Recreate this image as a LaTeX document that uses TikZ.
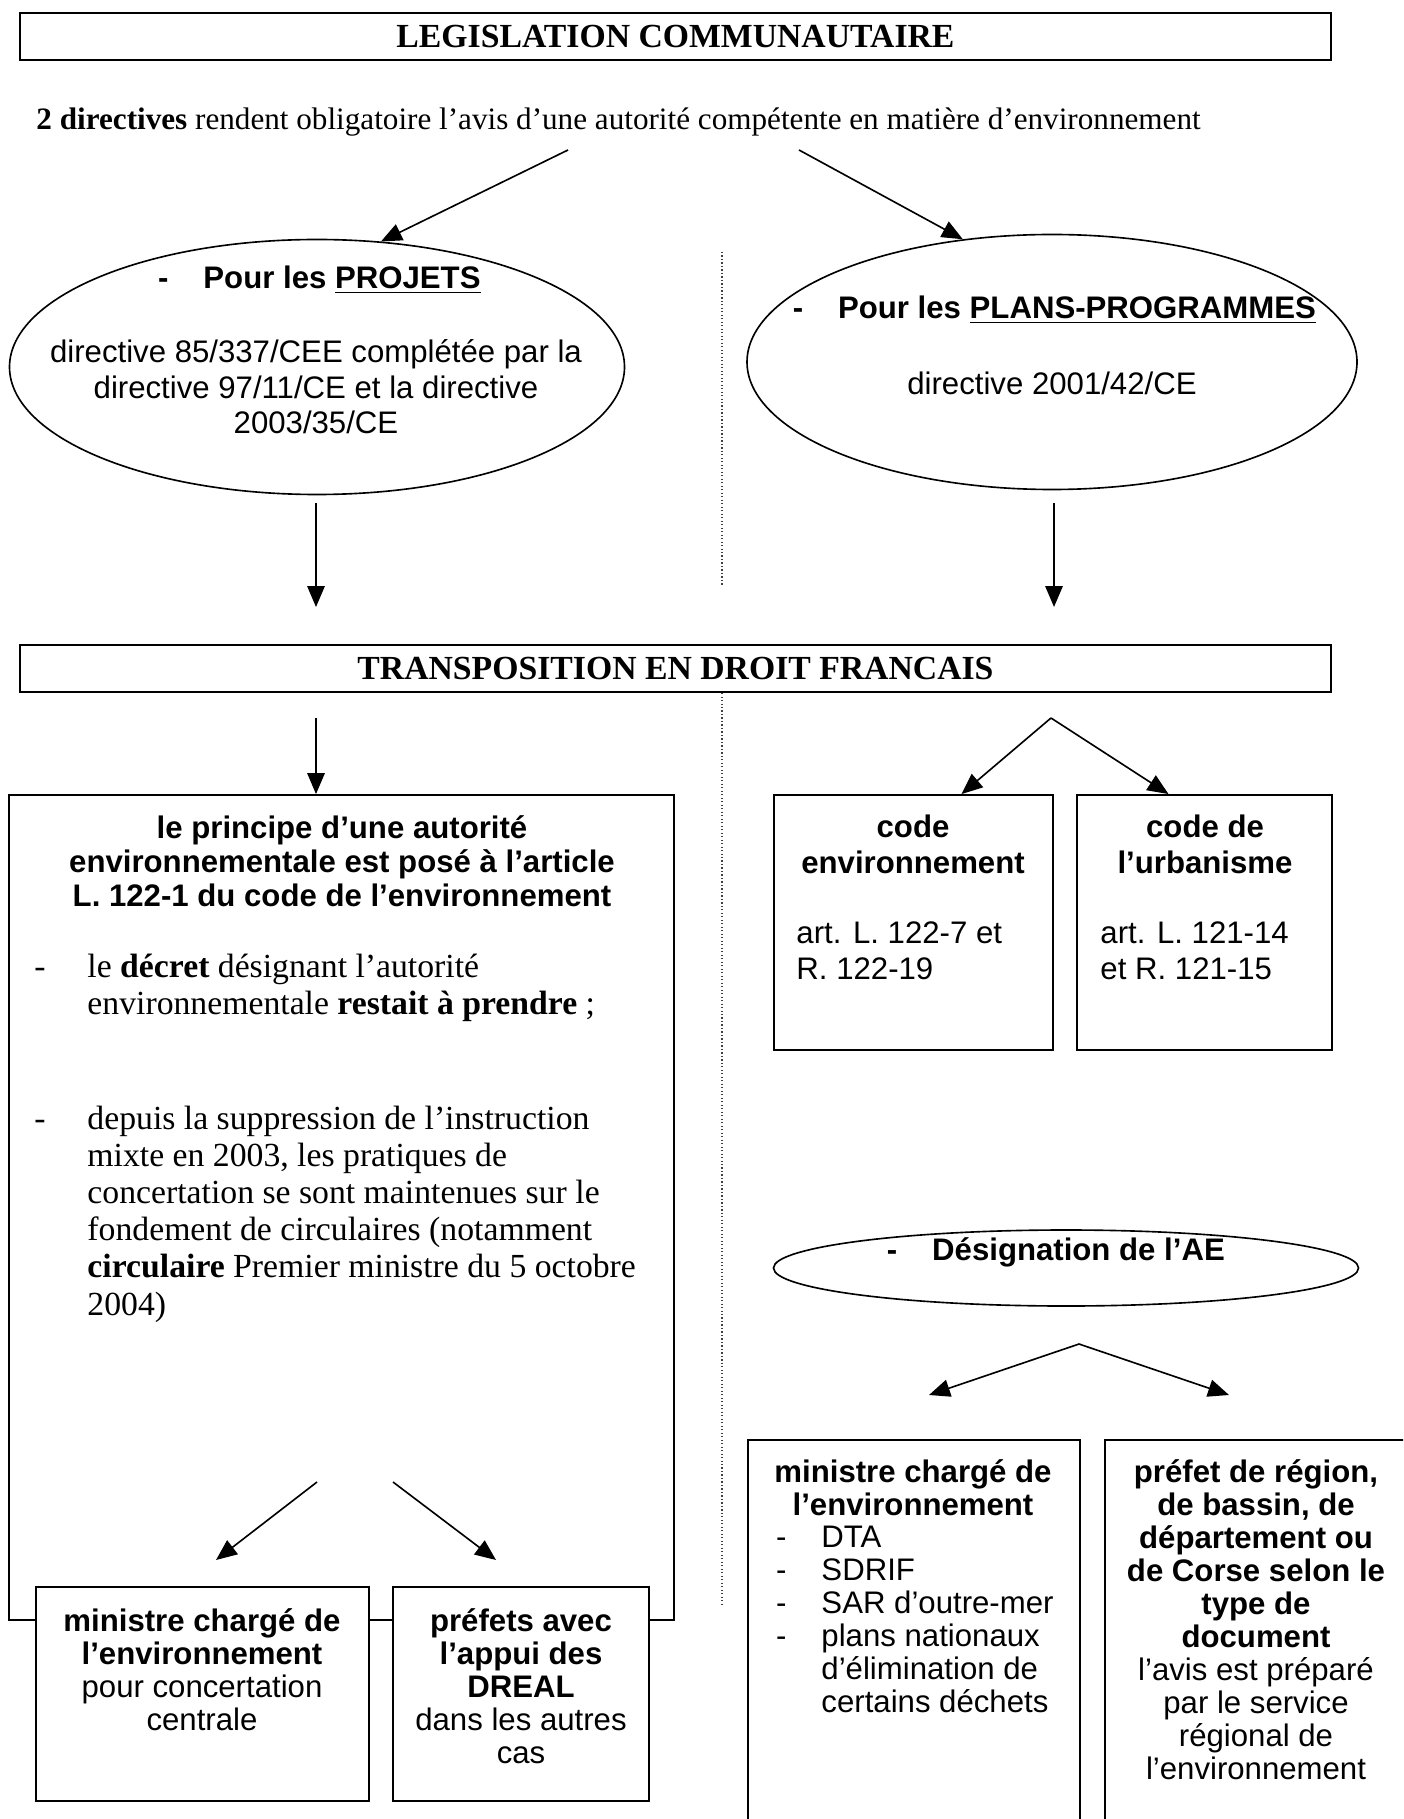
\documentclass[tikz,border=0pt]{standalone}
\usepackage{fontspec}
\setmainfont{Liberation Serif}
\setsansfont{Liberation Sans}
\usepackage{tikz}
\usetikzlibrary{arrows.meta,calc,positioning,fit,shapes.geometric}
\newcommand{\unitpx}{0.43pt}
\newcommand{\tiret}[1]{\llap{-\hspace{#1}}}
\tikzset{cadre/.style={draw=black,fill=white,line width=.8pt,inner sep=0pt},bandeau/.style={draw=black,line width=.9pt,inner sep=0pt,font=\fontsize{14.5}{16}\selectfont\bfseries},bulle/.style={draw=black,ellipse,line width=.7pt,inner sep=0pt},sanstxt/.style={font=\sffamily\fontsize{13.4}{15.3}\selectfont,align=center,inner sep=0pt},sansgras/.style={sanstxt,font=\sffamily\bfseries\fontsize{13.4}{15.3}\selectfont},serre/.style={font=\sffamily\fontsize{13.4}{14.2}\selectfont},seriftxt/.style={font=\fontsize{14.5}{16}\selectfont,align=left,inner sep=0pt},fleche/.style={-{Triangle[length=9pt,width=7.5pt]},line width=.7pt},pointille/.style={densely dotted,line width=.5pt,black!75}}

\begin{document}
\begin{tikzpicture}[x=\unitpx,y=-\unitpx]
\useasboundingbox (0,0) rectangle (1403,1819);
\clip (0,0) rectangle (1403,1819);
\node[bandeau,minimum width=1311*\unitpx,minimum height=47*\unitpx] (legis) at (675.5,36.5) {LEGISLATION COMMUNAUTAIRE};
\node[seriftxt,font=\fontsize{13.4}{15}\selectfont,anchor=west] (deuxdir) at (36,122) {\textbf{2 directives} rendent obligatoire l'avis d'une autorité compétente en matière d'environnement};
\node[bulle,minimum width=615*\unitpx,minimum height=255*\unitpx] (projets) at (317,367) {};
\node[sansgras] (projtitre) at (342,280) {\tiret{15pt}Pour les \underline{PROJETS}};
\node[sanstxt] (projtexte) at (316,387) {directive 85/337/CEE complétée par la\\directive 97/11/CE et la directive\\2003/35/CE};
\node[bulle,minimum width=610*\unitpx,minimum height=255*\unitpx] (plans) at (1052,362) {};
\node[sansgras] (planstitre) at (1077,310) {\tiret{15pt}Pour les \underline{PLANS-PROGRAMMES}};
\node[sanstxt] (planstexte) at (1052,383) {directive 2001/42/CE};
\coordinate (dirg) at (568,150);\coordinate (dird) at (799,150);
\draw[fleche] (dirg) -- (projets.63);
\draw[fleche] (dird) -- (plans.126);
\coordinate (hg) at (316,503);\coordinate (bg) at (316,607);
\coordinate (hd) at (1054,503);\coordinate (bd) at (1054,607);
\draw[fleche] (hg) -- (bg);\draw[fleche] (hd) -- (bd);
\node[bandeau,minimum width=1311*\unitpx,minimum height=47*\unitpx] (transp) at (675.5,668.5) {TRANSPOSITION EN DROIT FRANCAIS};
\coordinate (p1) at (722,252);\coordinate (p2) at (722,586);\coordinate (p3) at (722,1605);
\draw[pointille] (p1) -- (p2);\draw[pointille] (transp.south -| p3) -- (p3);
\node[cadre,fit={(9,795)(674,1620)}] (principe) {};
\coordinate (tp) at (316,718);
\draw[fleche] (tp) -- (tp |- principe.north);
\node[sansgras,font=\sffamily\bfseries\fontsize{13.4}{14.6}\selectfont] (principetitre) at (342,861) {le principe d'une autorité\\environnementale est posé à l'article\\L. 122-1 du code de l'environnement};
\node[seriftxt,anchor=west] (decret) at (87,988) {\tiret{18pt}le \textbf{décret} désignant l'autorité\\environnementale \textbf{restait à prendre} ;};
\node[seriftxt,anchor=west] (circul) at (87,1214) {\tiret{18pt}depuis la suppression de l'instruction\\mixte en 2003, les pratiques de\\concertation se sont maintenues sur le\\fondement de circulaires (notamment\\\textbf{circulaire} Premier ministre du 5 octobre\\2004)};
\coordinate (sg) at (317,1482);\coordinate (eg) at (216,1560);
\coordinate (sd) at (393,1482);\coordinate (ed) at (496,1560);
\draw[fleche] (sg) -- (eg);\draw[fleche] (sd) -- (ed);
\node[cadre,fit={(36,1587)(369,1801)}] (ministre) {};
\node[sanstxt,serre] (ministretxt) at (202,1669.5) {\textbf{ministre chargé de}\\\textbf{l'environnement}\\pour concertation\\centrale};
\node[cadre,fit={(393,1587)(649,1801)}] (prefets) {};
\node[sanstxt,serre] (prefetstxt) at (521,1686) {\textbf{préfets avec}\\\textbf{l'appui des}\\\textbf{DREAL}\\dans les autres\\cas};
\node[cadre,fit={(774,795)(1053,1050)}] (codeenv) {};
\node[cadre,fit={(1077,795)(1332,1050)}] (codeurb) {};
\coordinate (sommet) at (1051,718);
\draw[fleche] (sommet) -- ($(codeenv.north)+(48,0)$);
\draw[fleche] (sommet) -- ($(codeurb.north)+(-36,0)$);
\node[sansgras] (codeenvtitre) at (913,844.5) {code\\environnement};
\node[sanstxt,align=left,anchor=west] (codeenvart) at (796,950.5) {art. L. 122-7 et\\R. 122-19};
\node[sansgras] (codeurbtitre) at (1205,844.5) {code de\\l'urbanisme};
\node[sanstxt,align=left,anchor=west] (codeurbart) at (1100,950.5) {art. L. 121-14\\et R. 121-15};
\node[bulle,minimum width=585*\unitpx,minimum height=76*\unitpx] (ae) at (1066,1268) {};
\node[sansgras] (aetitre) at (1078.5,1252) {\tiret{15pt}Désignation de l'AE};
\coordinate (aesommet) at (1079,1344);\coordinate (aeg) at (929,1395);\coordinate (aed) at (1229,1395);
\draw[fleche] (aesommet) -- (aeg);\draw[fleche] (aesommet) -- (aed);
\node[cadre,fit={(748,1440)(1080,1840)}] (ministreae) {};
\node[cadre,fit={(1105,1440)(1420,1840)}] (prefetae) {};
\node[sansgras,font=\sffamily\bfseries\fontsize{13.4}{14.2}\selectfont] (ministreaetitre) at (913,1487.5) {ministre chargé de\\l'environnement};
\node[sanstxt,serre,align=left,anchor=west] (listeae) at (821,1619.5) {\tiret{15pt}DTA\\\tiret{15pt}SDRIF\\\tiret{15pt}SAR d'outre-mer\\\tiret{15pt}plans nationaux\\d'élimination de\\certains déchets};
\node[sanstxt,serre] (prefetaetxt) at (1256,1619.5) {\textbf{préfet de région,}\\\textbf{de bassin, de}\\\textbf{département ou}\\\textbf{de Corse selon le}\\\textbf{type de}\\\textbf{document}\\l'avis est préparé\\par le service\\régional de\\l'environnement};
\end{tikzpicture}
\end{document}
